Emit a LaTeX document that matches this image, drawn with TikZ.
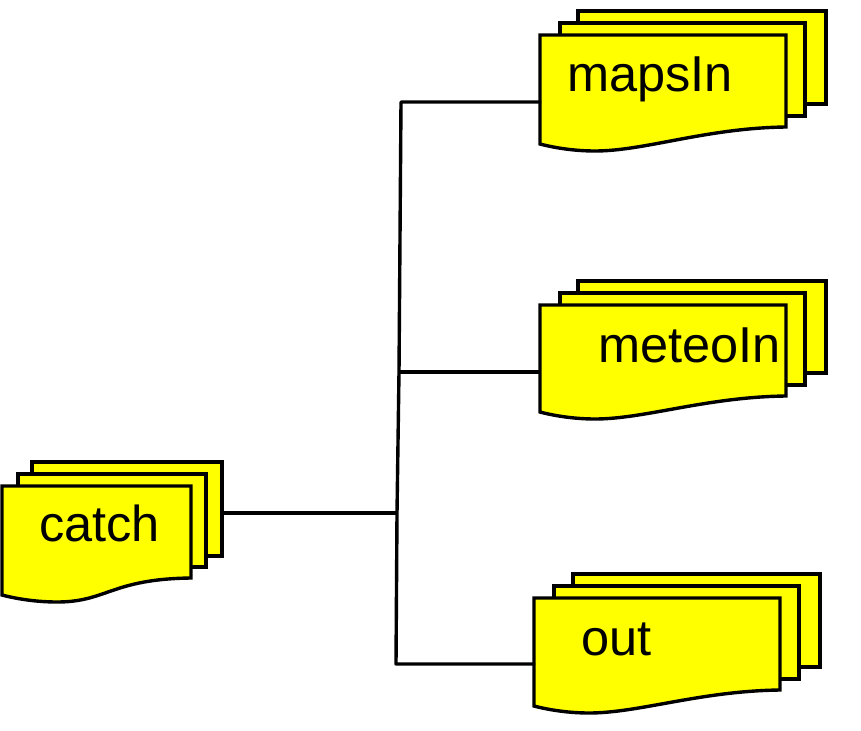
\documentclass[tikz,border=0pt]{standalone}
\usepackage{fontspec}
\setmainfont{Liberation Sans}
\tikzset{
  x=1pt,y=-1pt,
  sheet/.style={draw=black,fill=docyellow,line width=3.4pt,line join=miter},
  wire/.style={draw=black,line width=3.4pt,line join=round},
  doclabel/.style={inner sep=0pt,font=\fontsize{50.5}{50.5}\selectfont,text=black,anchor=base west},
}
\definecolor{docyellow}{RGB}{255,255,0}
% #1 left, #2 top, #3 right, #4 bottom
\newcommand{\sheetrect}[4]{\path[sheet] (#1,#2) rectangle (#3,#4);}
% #1 left, #2 top, #3 right, #4 bottom at right, #5 bottom at left
\newcommand{\sheetwave}[5]{\path[sheet] (#1,#5) -- (#1,#2) -- (#3,#2) -- (#3,#4)
  .. controls ({#3-80},{#4+1}) and ({#1+105},{#5+7}) .. ({#1+55},{#5+7})
  .. controls ({#1+35},{#5+7}) and ({#1+15},{#5+4}) .. (#1,#5) -- cycle;}
\begin{document}
\begin{tikzpicture}
\useasboundingbox (0,0) rectangle (861,730);
% junctions
\coordinate (jtop) at (401,102);
\coordinate (jmid) at (399,372);
\coordinate (jcatch) at (397,513);
\coordinate (jbot) at (396,664);
\coordinate (pcatch) at (222,513);
\coordinate (pmaps) at (541,102);
\coordinate (pmeteo) at (541,372);
\coordinate (pout) at (535,664);
% catch
\sheetrect{32}{462}{222}{556}
\sheetrect{18}{474}{206}{567}
\sheetwave{2}{486}{191}{578}{595}
\node[doclabel] (catch) at (39,541) {catch};
% mapsIn
\sheetrect{578}{11}{826}{104}
\sheetrect{560}{23}{805}{116}
\sheetwave{540}{35}{786}{127}{144}
\node[doclabel] (mapsIn) at (567,92) {mapsIn};
% meteoIn
\sheetrect{578}{281}{826}{373}
\sheetrect{560}{293}{805}{385}
\sheetwave{540}{305}{786}{396}{412}
\node[doclabel] (meteoIn) at (598,362) {meteoIn};
% out
\sheetrect{573}{574}{820}{667}
\sheetrect{554}{586}{799}{679}
\sheetwave{534}{598}{780}{690}{706}
\node[doclabel] (out) at (581,655) {out};
% connectors
\draw[wire] (pcatch) -- (jcatch);
\draw[wire] (pmaps) -- (jtop) -- (jmid) -- (jcatch) -- (jbot) -- (pout);
\draw[wire] (jmid) -- (pmeteo);
\end{tikzpicture}
\end{document}
